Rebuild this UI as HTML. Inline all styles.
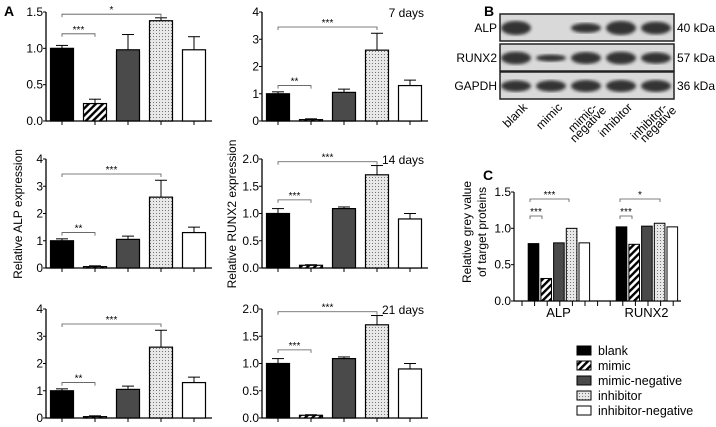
<!DOCTYPE html>
<html><head><meta charset="utf-8"><style>
body{margin:0;background:#fff}
svg{display:block;font-family:"Liberation Sans",Arial,sans-serif}
</style></head><body>
<svg id="fig" width="716" height="427" viewBox="0 0 716 427">
<defs>
<pattern id="hatch" patternUnits="userSpaceOnUse" width="5" height="5" patternTransform="rotate(45)"><rect width="5" height="5" fill="#fff"/><rect width="2.4" height="5" fill="#000"/></pattern>
<pattern id="dots" patternUnits="userSpaceOnUse" width="3" height="3"><rect width="3" height="3" fill="#e8e8e8"/><rect width="1" height="1" fill="#777"/></pattern>
<filter id="blur"><feGaussianBlur stdDeviation="1.5"/></filter>
</defs>
<g id="root"></g>
</svg>
<script>
const groups = ["blank","mimic","mimic-negative","inhibitor","inhibitor-negative"];
const a1Values = [1.0,0.24,0.98,1.38,0.98];
const a1Err = [0.04,0.06,0.21,0.04,0.18];
const alpValues = [1.0,0.05,1.05,2.6,1.3];
const alpErr = [0.07,0.03,0.12,0.62,0.2];
const runxValues = [1.0,0.05,1.09,1.71,0.9];
const runxErr = [0.09,0.01,0.03,0.17,0.1];
const cAlp = [0.79,0.31,0.80,1.0,0.80];
const cRunx = [1.02,0.78,1.03,1.07,1.02];
const ticks15 = ["0.0","0.5","1.0","1.5"];
const ticks4 = ["0","1","2","3","4"];
const ticks2 = ["0.0","0.5","1.0","1.5","2.0"];

const NS="http://www.w3.org/2000/svg";
const root=document.getElementById('root');
function el(tag,attrs,parent,text){const e=document.createElementNS(NS,tag);for(const k in attrs)e.setAttribute(k,attrs[k]);if(text!==undefined)e.textContent=text;(parent||root).appendChild(e);return e;}
const fills=["#000","url(#hatch)","#4a4a4a","url(#dots)","#fff"];

function panel(name,ax,y0,yTop,ymax,ticks,vals,errs,sigs,label){
  const g=el('g',{});
  
  
  const ys=v=>y0-(v/ymax)*(y0-yTop);
  const xc=i=>ax+16+i*33;
  el('line',{x1:ax,y1:yTop,x2:ax,y2:y0,stroke:'#000','stroke-width':1.3},g);
  el('line',{x1:ax,y1:y0,x2:ax+166,y2:y0,stroke:'#000','stroke-width':1.3},g);
  ticks.forEach((t,i)=>{const v=i*ymax/(ticks.length-1);const y=ys(v);
    el('line',{x1:ax-3,y1:y,x2:ax,y2:y,stroke:'#000'},g);
    const tx=el('text',{x:ax-3,y:y+4,'font-size':12,'text-anchor':'end'},g,t);
    
    });
  vals.forEach((v,i)=>{const x=xc(i);
    el('line',{x1:x,y1:y0,x2:x,y2:y0+4,stroke:'#000'},g);
    const ey=ys(v+errs[i]);
    el('line',{x1:x,y1:ys(v),x2:x,y2:ey,stroke:'#000'},g);
    el('line',{x1:x-6,y1:ey,x2:x+6,y2:ey,stroke:'#000'},g);
    const r=el('rect',{x:x-11.5,y:ys(v),width:23,height:y0-ys(v),fill:fills[i],stroke:'#000','stroke-width':1.2},g);
    
    });
  sigs.forEach(s=>{const y=ys(s[2]);const x1=xc(s[0]),x2=xc(s[1]);
    el('path',{d:`M${x1} ${y+3}V${y}H${x2}V${y+3}`,fill:'none',stroke:'#555','stroke-width':0.8},g);
    const t=el('text',{x:(x1+x2)/2,y:y-1,'font-size':10,'text-anchor':'middle'},g,s[3]);
    
    });
  if(label){const t=el('text',{x:ax+162,y:yTop+5,'font-size':12,'text-anchor':'end'},g,label);
    
    }
}
panel('alp-panel-top',46,121,12,1.5,ticks15,a1Values,a1Err,[[0,1,1.2,'***'],[0,3,1.47,'*']]);
panel('alp-panel-14d',46,268,159,4,ticks4,alpValues,alpErr,[[0,1,1.3,'**'],[0,3,3.45,'***']]);
panel('alp-panel-21d',46,418,309,4,ticks4,alpValues,alpErr,[[0,1,1.3,'**'],[0,3,3.45,'***']]);
panel('runx-panel-7d',262,121,12,4,ticks4,alpValues,alpErr,[[0,1,1.3,'**'],[0,3,3.45,'***']],'7 days');
panel('runx-panel-14d',262,268,159,2,ticks2,runxValues,runxErr,[[0,1,1.25,'***'],[0,3,1.95,'***']],'14 days');
panel('runx-panel-21d',262,418,309,2,ticks2,runxValues,runxErr,[[0,1,1.25,'***'],[0,3,1.95,'***']],'21 days');

// Panel C
(function(){
  const g=el('g',{});
  
  
  const ax=514,y0=301,yTop=192,ymax=1.5;
  const ys=v=>y0-(v/ymax)*(y0-yTop);
  el('line',{x1:ax,y1:yTop,x2:ax,y2:y0,stroke:'#000','stroke-width':1.2},g);
  el('line',{x1:ax,y1:y0,x2:681,y2:y0,stroke:'#000','stroke-width':1.2},g);
  ["0.0","0.5","1.0","1.5"].forEach((t,i)=>{const y=ys(i*0.5);
    el('line',{x1:ax-3,y1:y,x2:ax,y2:y,stroke:'#000'},g);
    const tx=el('text',{x:ax-3,y:y+4,'font-size':12,'text-anchor':'end'},g,t);
    
    });
  for(let k=0;k<13;k++){const x=522+k*12.6;el('line',{x1:x,y1:y0,x2:x,y2:y0+5,stroke:'#000'},g);}
  [[cAlp,533.5,'ALP'],[cRunx,621.5,'RUNX2']].forEach(([vals,x0,lab])=>{
    vals.forEach((v,i)=>{const x=x0+i*12.7;
      const r=el('rect',{x:x-5.3,y:ys(v),width:10.6,height:y0-ys(v),fill:fills[i],stroke:'#000','stroke-width':1},g);
      
      });
    const t=el('text',{x:x0+25,y:317,'font-size':13,'text-anchor':'middle'},g,lab);
    
    
  });
  [[530,569,199,'***'],[530,542,216,'***'],[620,660,199,'*'],[620,632,216,'***']].forEach(s=>{
    el('path',{d:`M${s[0]} ${s[2]+3}V${s[2]}H${s[1]}V${s[2]+3}`,fill:'none',stroke:'#555','stroke-width':0.8},g);
    el('text',{x:(s[0]+s[1])/2,y:s[2]-1,'font-size':10,'text-anchor':'middle'},g,s[3]);});
})();
</script>
<script>
(function(){
const NS="http://www.w3.org/2000/svg";const root=document.getElementById('root');
function el(tag,attrs,text){const e=document.createElementNS(NS,tag);for(const k in attrs)e.setAttribute(k,attrs[k]);if(text!==undefined)e.textContent=text;root.appendChild(e);return e;}
let t;
t=el('text',{x:4,y:16,'font-size':14,'font-weight':'bold'},'A');
t=el('text',{x:484,y:16,'font-size':14,'font-weight':'bold'},'B');
t=el('text',{x:483,y:180,'font-size':14,'font-weight':'bold'},'C');
t=el('text',{x:0,y:0,'font-size':12,'text-anchor':'middle',transform:'translate(22,214) rotate(-90)'},'Relative ALP expression');
t=el('text',{x:0,y:0,'font-size':12,'text-anchor':'middle',transform:'translate(236,214) rotate(-90)'},'Relative RUNX2 expression');
t=el('text',{x:0,y:0,'font-size':12,'text-anchor':'middle',transform:'translate(471,232) rotate(-90)'},'Relative grey value');
t=el('text',{x:0,y:0,'font-size':12,'text-anchor':'middle',transform:'translate(486,232) rotate(-90)'},'of target proteins');
// blots
const rows=[['ALP','40 kDa',14,[1,0,0.7,1,0.9]],['RUNX2','57 kDa',44,[0.9,0.5,0.85,0.9,0.8]],['GAPDH','36 kDa',72,[0.8,0.8,0.85,0.85,0.85]]];
rows.forEach(r=>{
  const b=el('rect',{x:500,y:r[2],width:174,height:27,fill:'#d9d9d9',stroke:'#222','stroke-width':1.5});
  
  r[3].forEach((a,i)=>{if(a>0)el('ellipse',{cx:516+i*35,cy:r[2]+14,rx:15,ry:7*a,fill:'#222',opacity:0.9,filter:'url(#blur)'});});
  el('text',{x:497,y:r[2]+18,'font-size':12,'text-anchor':'end'},r[0]);
  el('text',{x:677,y:r[2]+18,'font-size':12},r[1]);
});
const lanes=[['blank'],['mimic'],['mimic-','negative'],['inhibitor'],['inhibitor-','negative']];
lanes.forEach((l,i)=>{const x=528+i*35;
  l.forEach((s,j)=>{const e=el('text',{x:0,y:0,'font-size':12,'text-anchor':'end',transform:`translate(${x+j*9},${108+j*3}) rotate(-45)`},s);
  });});
// legend
const names=["blank","mimic","mimic-negative","inhibitor","inhibitor-negative"];
const fills=["#000","url(#hatch)","#4a4a4a","url(#dots)","#fff"];
names.forEach((n,i)=>{const y=346+i*15;
  const s=el('rect',{x:577,y:y,width:14,height:9,fill:fills[i],stroke:'#000','stroke-width':1});
  
  const e=el('text',{x:598,y:y+9,'font-size':12.5},n);
  });
})();
</script>
</body></html>
